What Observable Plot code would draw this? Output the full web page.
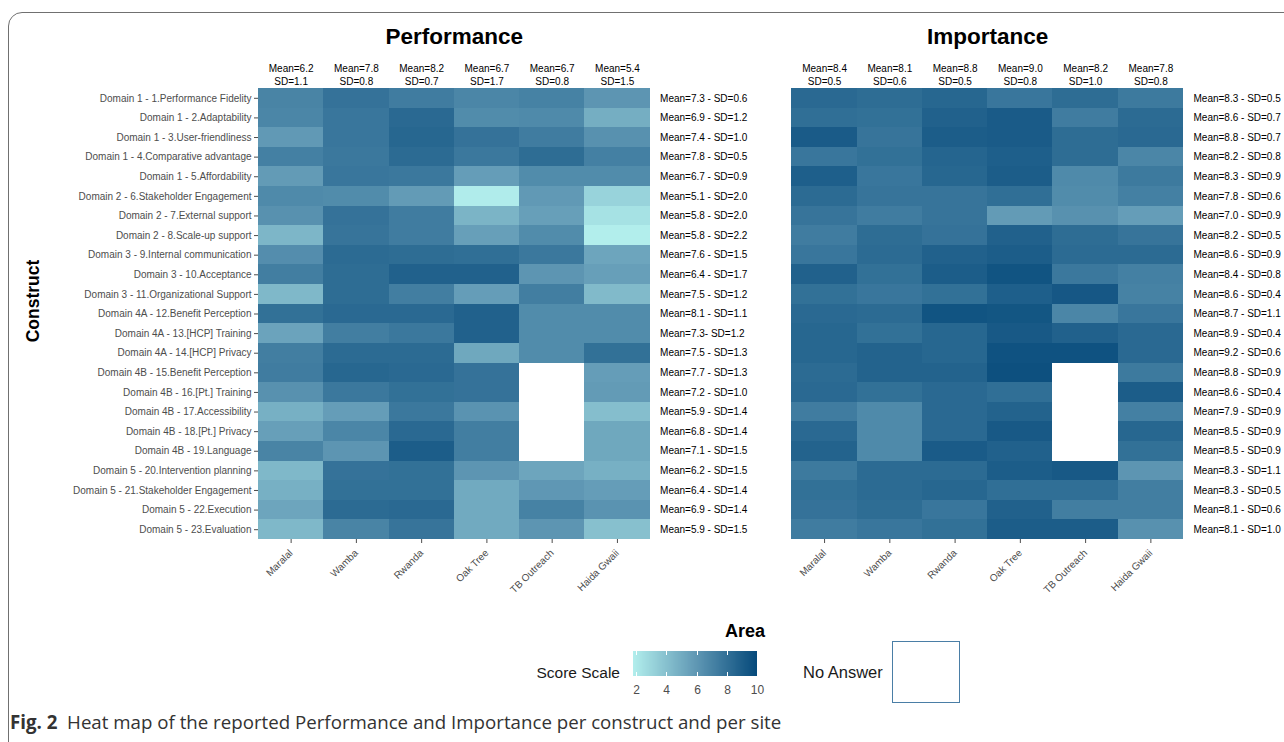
<!DOCTYPE html>
<html>
<head>
<meta charset="utf-8">
<script src="https://cdn.jsdelivr.net/npm/d3@7"></script>
<script src="https://cdn.jsdelivr.net/npm/@observablehq/plot@0.6"></script>
<style>
  html, body { margin: 0; padding: 0; background: #fff; }
  #wrap { position: relative; width: 1284px; height: 742px; overflow: hidden; font-family: "Liberation Sans", Arial, sans-serif; }
  #frame { position: absolute; left: 8px; top: 12px; width: 1320px; height: 780px; border: 1.5px solid #707070; border-top-left-radius: 14px; box-sizing: border-box; pointer-events: none; z-index: 5; }
  #chart { position: absolute; left: 0; top: 0; }
  .lbl { position: absolute; white-space: nowrap; transform: translateY(-50%); line-height: 1; }
  #area { left: 725px; top: 631px; font-size: 18px; font-weight: bold; color: #000; }
  #scoreScale { right: calc(1284px - 620px); top: 673px; font-size: 15.5px; color: #1a1a1a; }
  #noAnswer { left: 803px; top: 672px; font-size: 16.5px; color: #1a1a1a; }
  #naBox { position: absolute; left: 892px; top: 641px; width: 68px; height: 62px; border: 1.5px solid #4a7ea6; box-sizing: border-box; background: #fff; }
  #legend { position: absolute; left: 630px; top: 651px; }
  #legend line { stroke: #fff; stroke-dasharray: 4 17 4 40; }
  #cap { position: absolute; left: 10px; top: 722px; font-family: "Open Sans", "Noto Sans", sans-serif; font-size: 18.7px; color: #333; }
</style>
</head>
<body>
<div id="wrap">
  <div id="chart"></div>
  <div class="lbl" id="area">Area</div>
  <div class="lbl" id="scoreScale">Score Scale</div>
  <div id="legend"></div>
  <div class="lbl" id="noAnswer">No Answer</div>
  <div id="naBox"></div>
  <div class="lbl" id="cap"><b>Fig. 2</b>&nbsp; Heat map of the reported Performance and Importance per construct and per site</div>
  <div id="frame"></div>
</div>
<script>
// ---------------- data ----------------
const panels = ["Performance", "Importance"];

const sites = ["Maralal", "Wamba", "Rwanda", "Oak Tree", "TB Outreach", "Haida Gwaii"];

const constructs = [
  "Domain 1 - 1.Performance Fidelity",
  "Domain 1 - 2.Adaptability",
  "Domain 1 - 3.User-friendliness",
  "Domain 1 - 4.Comparative advantage",
  "Domain 1 - 5.Affordability",
  "Domain 2 - 6.Stakeholder Engagement",
  "Domain 2 - 7.External support",
  "Domain 2 - 8.Scale-up support",
  "Domain 3 - 9.Internal communication",
  "Domain 3 - 10.Acceptance",
  "Domain 3 - 11.Organizational Support",
  "Domain 4A - 12.Benefit Perception",
  "Domain 4A - 13.[HCP] Training",
  "Domain 4A - 14.[HCP] Privacy",
  "Domain 4B - 15.Benefit Perception",
  "Domain 4B - 16.[Pt.] Training",
  "Domain 4B - 17.Accessibility",
  "Domain 4B - 18.[Pt.] Privacy",
  "Domain 4B - 19.Language",
  "Domain 5 - 20.Intervention planning",
  "Domain 5 - 21.Stakeholder Engagement",
  "Domain 5 - 22.Execution",
  "Domain 5 - 23.Evaluation"
];

// rows = constructs, columns = sites (Maralal, Wamba, Rwanda, Oak Tree, TB Outreach, Haida Gwaii)
const performanceScores = [
  [7.0, 7.9, 7.4, 6.9, 7.1, 6.1],
  [6.9, 7.7, 8.4, 6.6, 6.7, 4.9],
  [5.9, 7.7, 8.5, 7.9, 7.4, 6.3],
  [7.2, 7.6, 8.3, 7.6, 8.2, 7.2],
  [5.8, 7.7, 7.6, 5.7, 6.6, 6.6],
  [6.7, 6.6, 5.8, 1.9, 5.9, 3.1],
  [6.3, 7.9, 7.4, 4.6, 5.6, 2.4],
  [4.5, 7.8, 7.4, 5.6, 6.6, 1.8],
  [6.5, 8.3, 8.2, 8.1, 7.6, 5.3],
  [7.3, 8.2, 8.8, 8.8, 6.1, 5.6],
  [4.4, 8.2, 7.3, 5.7, 7.3, 4.3],
  [8.0, 8.4, 8.4, 8.8, 6.6, 6.6],
  [5.4, 7.3, 7.6, 8.8, 6.6, 6.6],
  [7.3, 8.3, 8.3, 5.2, 6.6, 8.0],
  [7.4, 8.5, 8.4, 7.9, null, 5.7],
  [6.3, 7.6, 8.0, 7.9, null, 5.8],
  [4.8, 5.7, 7.6, 6.2, null, 4.1],
  [5.6, 6.9, 8.4, 7.3, null, 5.2],
  [7.0, 6.1, 9.0, 7.3, null, 5.2],
  [4.4, 7.9, 8.0, 6.1, 5.3, 4.8],
  [4.8, 8.0, 8.0, 5.1, 6.0, 5.7],
  [5.3, 8.3, 8.4, 5.1, 7.1, 6.2],
  [4.4, 7.0, 7.8, 5.1, 6.1, 4.0]
];

const importanceScores = [
  [8.4, 8.2, 8.5, 7.7, 8.2, 7.5],
  [8.1, 8.0, 8.8, 9.1, 7.4, 8.3],
  [9.1, 7.8, 9.0, 9.1, 8.2, 8.4],
  [7.7, 8.0, 8.6, 8.9, 8.2, 6.9],
  [8.9, 7.7, 8.5, 9.0, 6.7, 7.5],
  [8.3, 7.8, 7.8, 8.1, 6.6, 7.2],
  [7.8, 7.4, 7.8, 5.8, 6.3, 5.7],
  [7.4, 8.2, 7.9, 8.8, 8.2, 7.8],
  [7.7, 8.3, 8.8, 9.0, 8.3, 8.3],
  [8.8, 8.0, 9.0, 9.5, 7.6, 7.2],
  [8.0, 7.7, 8.0, 8.9, 9.3, 7.1],
  [8.4, 8.3, 9.5, 9.4, 6.9, 7.7],
  [8.5, 8.0, 8.5, 9.2, 8.8, 8.4],
  [8.5, 8.7, 8.5, 9.6, 9.6, 8.4],
  [8.3, 8.7, 8.7, 9.7, null, 7.5],
  [8.4, 8.0, 8.4, 8.1, null, 9.0],
  [7.4, 6.7, 8.4, 8.7, null, 7.2],
  [8.4, 6.7, 8.4, 9.2, null, 8.5],
  [8.7, 6.7, 9.1, 8.8, null, 8.0],
  [7.5, 8.3, 8.3, 9.0, 9.2, 6.1],
  [8.0, 8.3, 8.5, 8.1, 8.1, 7.3],
  [7.9, 8.2, 7.7, 8.8, 7.3, 7.3],
  [7.4, 7.7, 8.0, 9.0, 9.0, 6.3]
];

const performanceSiteMean = [6.2, 7.8, 8.2, 6.7, 6.7, 5.4];
const performanceSiteSD   = [1.1, 0.8, 0.7, 1.7, 0.8, 1.5];
const importanceSiteMean  = [8.4, 8.1, 8.8, 9.0, 8.2, 7.8];
const importanceSiteSD    = [0.5, 0.6, 0.5, 0.8, 1.0, 0.8];

const performanceRowLabels = [
  "Mean=7.3 - SD=0.6", "Mean=6.9 - SD=1.2", "Mean=7.4 - SD=1.0", "Mean=7.8 - SD=0.5",
  "Mean=6.7 - SD=0.9", "Mean=5.1 - SD=2.0", "Mean=5.8 - SD=2.0", "Mean=5.8 - SD=2.2",
  "Mean=7.6 - SD=1.5", "Mean=6.4 - SD=1.7", "Mean=7.5 - SD=1.2", "Mean=8.1 - SD=1.1",
  "Mean=7.3- SD=1.2",  "Mean=7.5 - SD=1.3", "Mean=7.7 - SD=1.3", "Mean=7.2 - SD=1.0",
  "Mean=5.9 - SD=1.4", "Mean=6.8 - SD=1.4", "Mean=7.1 - SD=1.5", "Mean=6.2 - SD=1.5",
  "Mean=6.4 - SD=1.4", "Mean=6.9 - SD=1.4", "Mean=5.9 - SD=1.5"
];
const importanceRowLabels = [
  "Mean=8.3 - SD=0.5", "Mean=8.6 - SD=0.7", "Mean=8.8 - SD=0.7", "Mean=8.2 - SD=0.8",
  "Mean=8.3 - SD=0.9", "Mean=7.8 - SD=0.6", "Mean=7.0 - SD=0.9", "Mean=8.2 - SD=0.5",
  "Mean=8.6 - SD=0.9", "Mean=8.4 - SD=0.8", "Mean=8.6 - SD=0.4", "Mean=8.7 - SD=1.1",
  "Mean=8.9 - SD=0.4", "Mean=9.2 - SD=0.6", "Mean=8.8 - SD=0.9", "Mean=8.6 - SD=0.4",
  "Mean=7.9 - SD=0.9", "Mean=8.5 - SD=0.9", "Mean=8.5 - SD=0.9", "Mean=8.3 - SD=1.1",
  "Mean=8.3 - SD=0.5", "Mean=8.1 - SD=0.6", "Mean=8.1 - SD=1.0"
];

const legendTicks = [2, 4, 6, 8, 10];

// ---------------- tables ----------------
const scoreSets = [[panels[0], performanceScores], [panels[1], importanceScores]];
const cells = [];
scoreSets.forEach(([panel, rows]) =>
  constructs.forEach((c, i) => sites.forEach((s, j) => {
    const v = rows[i][j];
    if (v != null) cells.push({panel, construct: c, site: s, value: v});
  })));

const colHeads = [];
[[panels[0], performanceSiteMean, performanceSiteSD], [panels[1], importanceSiteMean, importanceSiteSD]]
  .forEach(([panel, m, sd]) => sites.forEach((s, j) =>
    colHeads.push({panel, site: s, text: `Mean=${m[j].toFixed(1)}\nSD=${sd[j].toFixed(1)}`})));

const rowHeads = [];
[[panels[0], performanceRowLabels], [panels[1], importanceRowLabels]]
  .forEach(([panel, labels]) => constructs.forEach((c, i) => rowHeads.push({panel, construct: c, text: labels[i]})));

const colorScale = {type: "linear", domain: [1.8, 5.9, 10], range: ["#b2eeec", "#6199b5", "#064a7b"]};
const font = '"Liberation Sans", Arial, sans-serif';

const chart = Plot.plot({
  width: 1284,
  height: 620,
  marginTop: 88,
  marginBottom: 81,
  marginLeft: 258,
  marginRight: 101,
  style: {fontFamily: font, fontSize: "10px", background: "transparent", color: "#4d4d4d", overflow: "visible"},
  fx: {domain: panels, paddingInner: 0.266, paddingOuter: 0, round: false, axis: null},
  x: {domain: sites, padding: 0, round: false, label: null, tickRotate: -45, tickSize: 4},
  y: {domain: constructs, padding: 0, round: false, label: null, tickSize: 4, tickPadding: 3},
  color: colorScale,
  marks: [
    Plot.cell(cells, {x: "site", y: "construct", fx: "panel", fill: "value", shapeRendering: "crispEdges"}),
    Plot.text(panels, {fx: d => d, text: d => d, frameAnchor: "top", dy: -60, fontSize: 22.5, fontWeight: "bold", fill: "#000"}),
    Plot.text(colHeads, {fx: "panel", x: "site", text: "text", frameAnchor: "top", lineAnchor: "bottom", dy: -4, lineHeight: 1.3, fill: "#000", fontSize: 10}),
    Plot.text(rowHeads, {fx: "panel", y: "construct", text: "text", frameAnchor: "right", textAnchor: "start", dx: 10, fill: "#000", fontSize: 10}),
    Plot.text([{panel: panels[0], t: "Construct"}], {fx: "panel", text: "t", frameAnchor: "left", textAnchor: "middle", dx: -225, dy: -13, rotate: -90, fontSize: 17.5, fontWeight: "bold", fill: "#000"})
  ]
});
document.getElementById("chart").appendChild(chart);

const legend = Plot.legend({
  color: colorScale,
  label: null,
  width: 137,
  height: 48,
  marginLeft: 3,
  marginRight: 10,
  marginTop: 0,
  marginBottom: 23,
  ticks: legendTicks,
  tickSize: 6,
  style: {fontFamily: font, fontSize: "12px", color: "#4d4d4d", background: "transparent", overflow: "visible"}
});
document.getElementById("legend").appendChild(legend);
</script>
</body>
</html>
